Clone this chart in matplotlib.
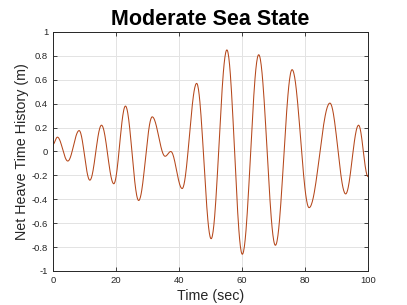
import numpy as np
import matplotlib.pyplot as plt
from matplotlib import rc

rc('font', **{'family': ['Liberation Sans', 'DejaVu Sans'], 'size': 7})
rc(('xtick', 'ytick'), **{'labelsize': 6.8, 'direction': 'in', 'major.pad': 3.5,
                         'color': '#262626', 'labelcolor': '#262626',
                         'major.size': 3, 'major.width': 0.6})

# crests and troughs (time in s, heave in m)
t_ext = [0.0, 1.4, 4.7, 8.3, 11.7, 15.4, 19.3, 23.0, 27.2, 31.5, 35.6, 37.4,
         41.0, 45.6, 50.2, 55.2, 60.1, 65.3, 70.6, 75.9, 81.3, 87.9, 92.9, 97.0, 100.0]
h_ext = [0.06, 0.12, -0.08, 0.175, -0.24, 0.22, -0.27, 0.38, -0.41, 0.29, -0.04, 0.0,
         -0.31, 0.57, -0.73, 0.85, -0.86, 0.81, -0.785, 0.685, -0.47, 0.405, -0.355, 0.22, -0.21]

xticks = [0, 20, 40, 60, 80, 100]
yticks = [-1, -0.8, -0.6, -0.4, -0.2, 0, 0.2, 0.4, 0.6, 0.8, 1]

# smooth half-cosine joins between successive extrema
t_line, h_line = [], []
for i in range(len(t_ext) - 1):
    s = np.linspace(0, 1, 40, endpoint=False)
    w = 0.5 - 0.5 * np.cos(np.pi * s)
    t_line.append(t_ext[i] + (t_ext[i + 1] - t_ext[i]) * s)
    h_line.append(h_ext[i] + (h_ext[i + 1] - h_ext[i]) * w)
t_line = np.concatenate(t_line + [[t_ext[-1]]])
h_line = np.concatenate(h_line + [[h_ext[-1]]])

fig = plt.figure(figsize=(4.07, 3.05), dpi=100)
ax = fig.add_axes([0.1302, 0.1115, 0.774, 0.7836])
ax.plot(t_line, h_line, '-', color='#B5471B', lw=0.75)

ax.set_xlim(0, 100)
ax.set_ylim(-1, 1)
ax.set_xticks(xticks)
ax.set_yticks(yticks)
ax.set_yticklabels(['%g' % v for v in yticks])
ax.tick_params(top=True, right=True)
ax.grid(True, color='#e3e3e3', lw=0.7)
ax.set_axisbelow(True)
for sp in ax.spines.values():
    sp.set_color('#262626')
    sp.set_linewidth(0.7)

ax.set_xlabel('Time (sec)', fontsize=10.3, color='#262626', labelpad=3)
ax.set_ylabel('Net Heave Time History (m)', fontsize=10.3, color='#262626', labelpad=2)
ax.set_title('Moderate Sea State', fontsize=15.5, fontweight='bold', pad=5)

fig.savefig('out.png')
